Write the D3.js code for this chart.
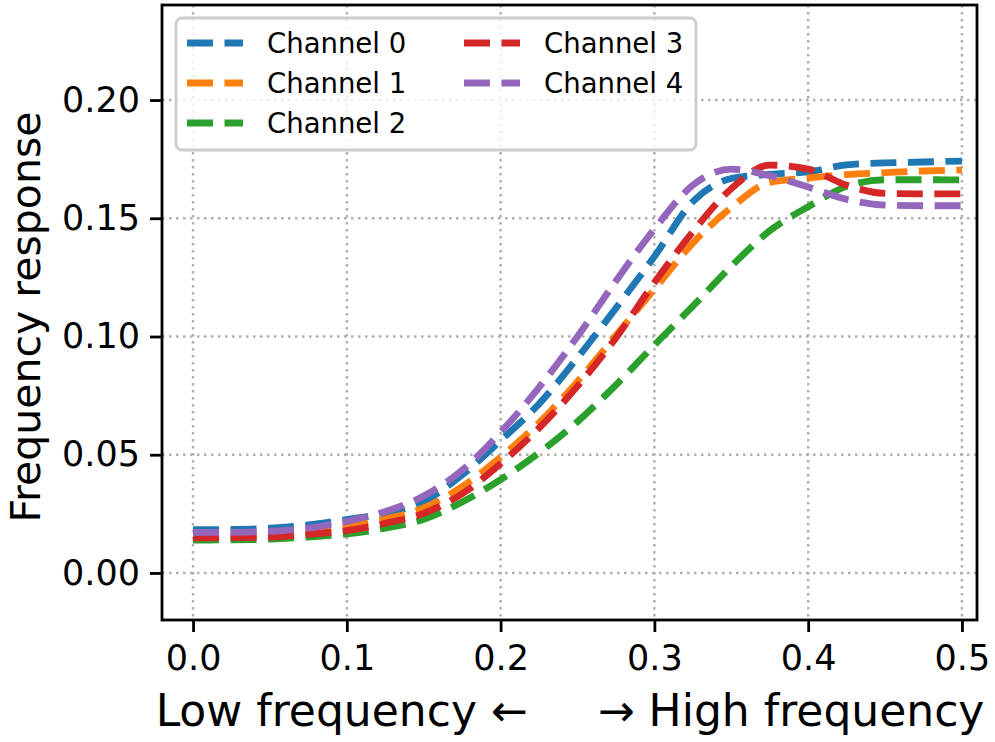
<!DOCTYPE html>
<html>
<head>
<meta charset="utf-8">
<script src="https://cdn.jsdelivr.net/npm/d3@7"></script>
<style>
body { margin: 0; background: #fff; }
text { font-family: "DejaVu Sans", sans-serif; fill: #000; }
</style>
</head>
<body>
<div id="chart"></div>
<script>
// frequency samples (x) and the response of each channel
var freqs = [0, 0.025, 0.05, 0.075, 0.1, 0.125, 0.15, 0.175, 0.2, 0.225, 0.25,
             0.275, 0.3, 0.325, 0.35, 0.375, 0.4, 0.425, 0.45, 0.475, 0.5];
var channel0 = [0.0183, 0.0184, 0.0189, 0.0203, 0.0226, 0.0252, 0.0302, 0.0415, 0.0560, 0.0715, 0.0910,
                0.1120, 0.1338, 0.1570, 0.1668, 0.1686, 0.1696, 0.1726, 0.1734, 0.1738, 0.1742];
var channel1 = [0.0156, 0.0157, 0.0161, 0.0174, 0.0196, 0.0228, 0.0275, 0.0365, 0.0490, 0.0635, 0.0810,
                0.1005, 0.1200, 0.1395, 0.1545, 0.1652, 0.1670, 0.1685, 0.1693, 0.1700, 0.1704];
var channel2 = [0.0139, 0.0140, 0.0143, 0.0152, 0.0165, 0.0189, 0.0227, 0.0300, 0.0395, 0.0508, 0.0640,
                0.0795, 0.0964, 0.1128, 0.1297, 0.1447, 0.1549, 0.1635, 0.1663, 0.1663, 0.1662];
var channel3 = [0.0148, 0.0149, 0.0152, 0.0163, 0.0179, 0.0210, 0.0252, 0.0335, 0.0462, 0.0613, 0.0790,
                0.0994, 0.1228, 0.1443, 0.1625, 0.1725, 0.1708, 0.1640, 0.1605, 0.1603, 0.1603];
var channel4 = [0.0171, 0.0172, 0.0176, 0.0190, 0.0218, 0.0260, 0.0325, 0.0435, 0.0595, 0.0785, 0.1000,
                0.1235, 0.1455, 0.1640, 0.1708, 0.1680, 0.1632, 0.1580, 0.1556, 0.1553, 0.1553];

var channelNames = ["Channel 0", "Channel 1", "Channel 2", "Channel 3", "Channel 4"];
var xTicks = [0, 0.1, 0.2, 0.3, 0.4, 0.5];
var yTicks = [0, 0.05, 0.1, 0.15, 0.2];

var colors = ["#1f77b4", "#ff7f0e", "#2ca02c", "#d62728", "#9467bd"];

var series = [channel0, channel1, channel2, channel3, channel4].map(function(vals, i) {
    return { name: channelNames[i], color: colors[i],
             points: vals.map(function(v, j) { return { f: freqs[j], v: v }; }) };
});

var margin = { top: 5, right: 18, bottom: 122, left: 162 },
    width = 995 - margin.left - margin.right,
    height = 742 - margin.top - margin.bottom;

var x = d3.scaleLinear()
    .domain([-0.0202, 0.5098])
    .range([0, width]);

var y = d3.scaleLinear()
    .domain([-0.0199, 0.2402])
    .range([height, 0]);

var svg = d3.select("#chart")
    .append("svg")
    .attr("width", 995)
    .attr("height", 742)
    .append("g")
    .attr("transform", "translate(" + margin.left + ", " + margin.top + ")");

// dotted grid
svg.append("g")
    .selectAll("line")
    .data(xTicks)
    .join("line")
    .attr("x1", (d) => x(d)).attr("x2", (d) => x(d))
    .attr("y1", 0).attr("y2", height)
    .attr("stroke", "#b0b0b0").attr("stroke-width", 2.5)
    .attr("stroke-dasharray", "2.5,4.5");

svg.append("g")
    .selectAll("line")
    .data(yTicks)
    .join("line")
    .attr("y1", (d) => y(d)).attr("y2", (d) => y(d))
    .attr("x1", 0).attr("x2", width)
    .attr("stroke", "#b0b0b0").attr("stroke-width", 2.5)
    .attr("stroke-dasharray", "2.5,4.5");

// curves
var line = d3.line()
    .x((d) => x(d.f))
    .y((d) => y(d.v))
    .curve(d3.curveMonotoneX);

svg.append("g")
    .selectAll("path")
    .data(series)
    .join("path")
    .attr("d", (d) => line(d.points))
    .attr("fill", "none")
    .attr("stroke", (d) => d.color)
    .attr("stroke-width", 6.8)
    .attr("stroke-dasharray", "26,11.5");

// axes
var xAxis = svg.append("g")
    .attr("transform", "translate(0, " + height + ")")
    .call(d3.axisBottom(x).tickValues(xTicks).tickFormat(d3.format(".1f"))
        .tickSize(12).tickPadding(13));

var yAxis = svg.append("g")
    .call(d3.axisLeft(y).tickValues(yTicks).tickFormat(d3.format(".2f"))
        .tickSize(12).tickPadding(10));

[xAxis, yAxis].forEach(function(a) {
    a.select(".domain").remove();
    a.selectAll(".tick line").attr("stroke", "#000").attr("stroke-width", 2.8);
    a.selectAll(".tick text")
        .attr("fill", "#000")
        .style("font-family", "DejaVu Sans")
        .style("font-size", "35px");
});

// frame
svg.append("rect")
    .attr("width", width)
    .attr("height", height)
    .attr("fill", "none")
    .attr("stroke", "#000")
    .attr("stroke-width", 2.8);

// axis labels
svg.append("text")
    .attr("x", 408)
    .attr("y", height + 106)
    .attr("text-anchor", "middle")
    .style("font-size", "44px")
    .style("white-space", "pre")
    .text("Low frequency \u2190     \u2192 High frequency");

svg.append("text")
    .attr("transform", "rotate(-90)")
    .attr("x", -312)
    .attr("y", -margin.left + 40)
    .attr("text-anchor", "middle")
    .style("font-size", "41px")
    .text("Frequency response");

// legend
var legend = svg.append("g")
    .attr("transform", "translate(14, 13)");

legend.append("rect")
    .attr("width", 520)
    .attr("height", 132)
    .attr("rx", 6)
    .attr("fill", "#fff")
    .attr("fill-opacity", 0.8)
    .attr("stroke", "#cccccc")
    .attr("stroke-width", 2.8);

var items = legend.selectAll("g.item")
    .data(series)
    .join("g")
    .attr("class", "item")
    .attr("transform", (d, i) => "translate(" + (i < 3 ? 0 : 277) + ", " + (25 + (i % 3) * 40) + ")");

items.append("line")
    .attr("x1", 11).attr("x2", 67)
    .attr("stroke", (d) => d.color)
    .attr("stroke-width", 6.8)
    .attr("stroke-dasharray", "26,11.5");

items.append("text")
    .attr("x", 91)
    .attr("dy", "0.36em")
    .style("font-size", "27.5px")
    .text((d) => d.name);
</script>
</body>
</html>
